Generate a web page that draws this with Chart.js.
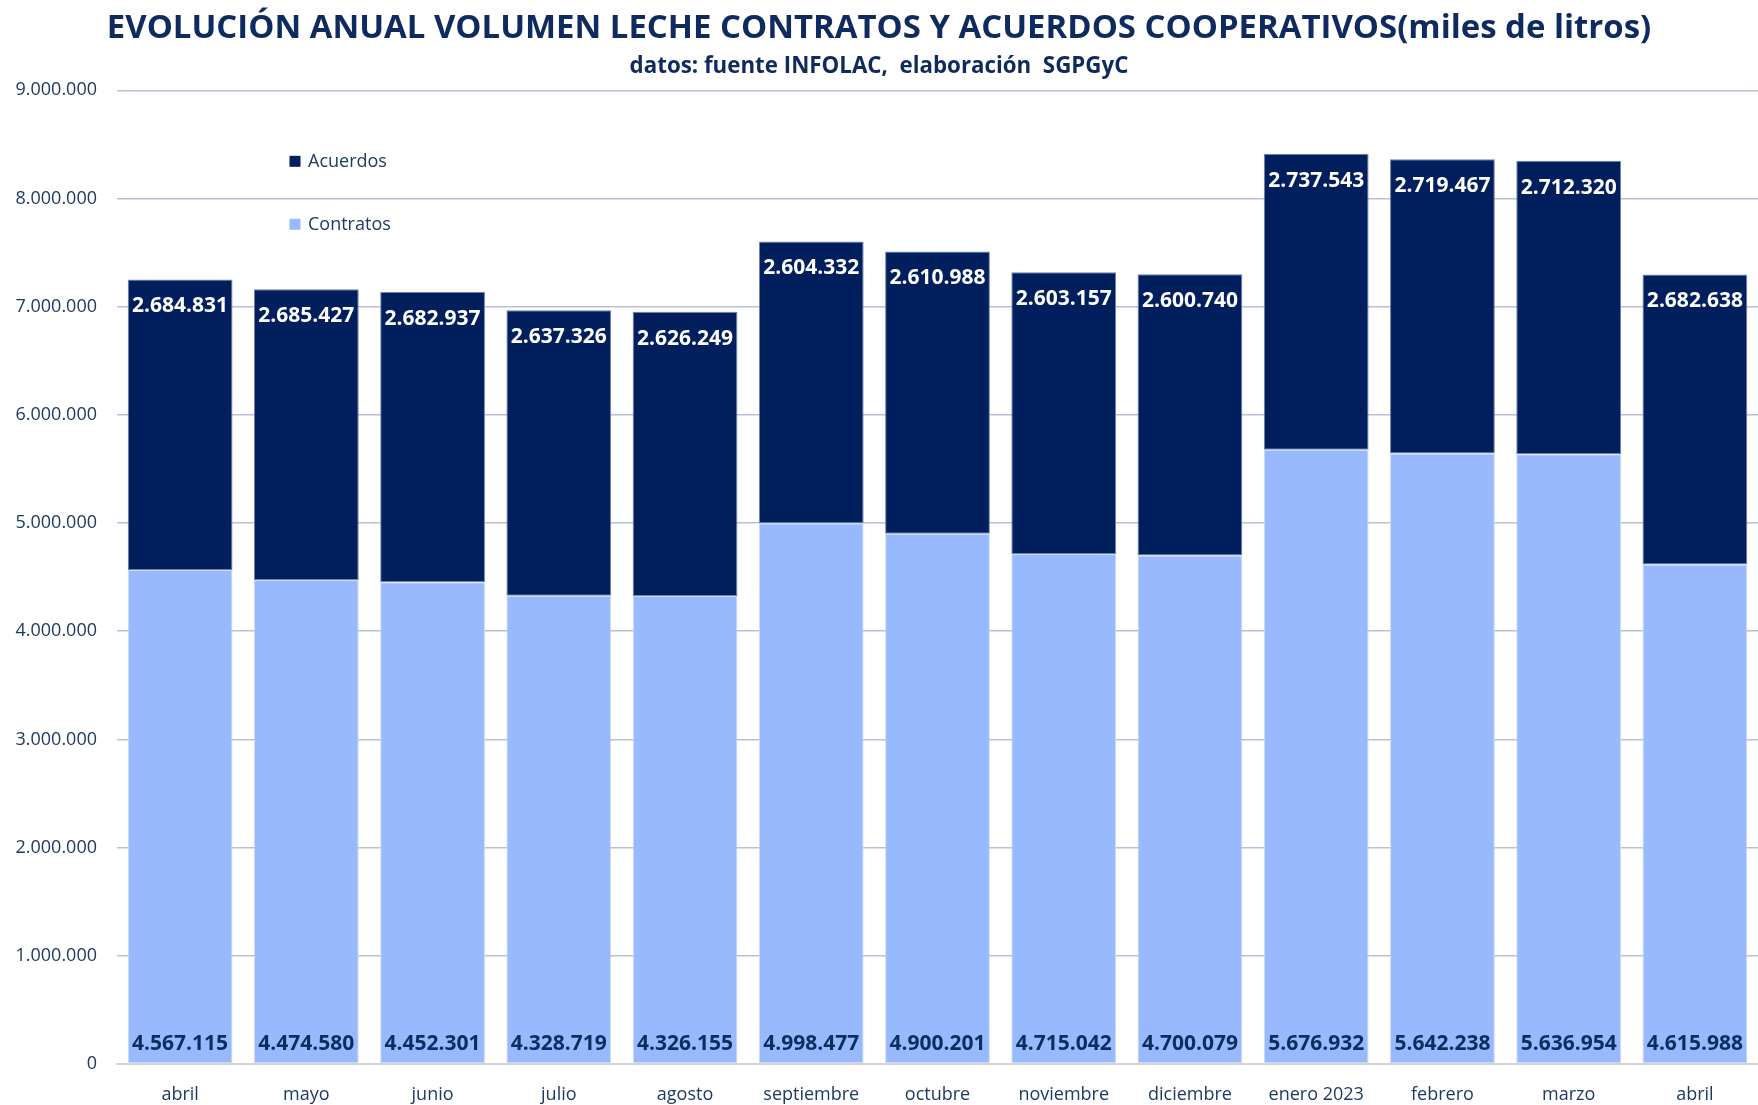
<!DOCTYPE html>
<html>
<head>
<meta charset="utf-8">
<script src="https://cdn.jsdelivr.net/npm/chart.js@4.4.1/dist/chart.umd.min.js"></script>
<style>
  html, body { margin: 0; padding: 0; background: #ffffff; }
  #wrap { width: 1758px; height: 1105px; }
</style>
</head>
<body>
<div id="wrap"><canvas id="c" width="1758" height="1105"></canvas></div>
<script>
// ---- data ----
const categories = ["abril", "mayo", "junio", "julio", "agosto", "septiembre", "octubre", "noviembre", "diciembre", "enero 2023", "febrero", "marzo", "abril"];
const contratos = [4567115, 4474580, 4452301, 4328719, 4326155, 4998477, 4900201, 4715042, 4700079, 5676932, 5642238, 5636954, 4615988];
const acuerdos  = [2684831, 2685427, 2682937, 2637326, 2626249, 2604332, 2610988, 2603157, 2600740, 2737543, 2719467, 2712320, 2682638];
const yTicks = [0, 1000000, 2000000, 3000000, 4000000, 5000000, 6000000, 7000000, 8000000, 9000000];
const titleText = "EVOLUCIÓN ANUAL VOLUMEN LECHE CONTRATOS Y ACUERDOS COOPERATIVOS(miles de litros)";
const subtitleText = "datos: fuente INFOLAC,  elaboración  SGPGyC";

// ---- styling ----
const DARK = "#001F5C";
const LIGHT = "#99B9FF";
const NAVY_TEXT = "#0E2A5E";
const AXIS_TEXT = "#1F3A62";
const FAMILY = "'Open Sans', 'Noto Sans', sans-serif";

function fmt(v) {
  return Math.round(v).toString().replace(/\B(?=(\d{3})+(?!\d))/g, ".");
}
function fitSize(text, weight, family, target) {
  const ctx = document.createElement("canvas").getContext("2d");
  ctx.font = weight + " 100px " + family;
  return 100 * target / ctx.measureText(text).width;
}
const titleSize = fitSize(titleText, "bold", FAMILY, 1545);
const subSize = fitSize(subtitleText, "bold", FAMILY, 499);

const valueLabels = {
  id: "valueLabels",
  afterDatasetsDraw(chart) {
    const ctx = chart.ctx;
    const base = chart.scales.y.getPixelForValue(0);
    ctx.save();
    ctx.font = "bold 21px " + FAMILY;
    ctx.textAlign = "center";
    ctx.textBaseline = "middle";
    chart.data.datasets.forEach((ds, di) => {
      const meta = chart.getDatasetMeta(di);
      meta.data.forEach((bar, i) => {
        const v = ds.data[i];
        if (di === 1) {
          ctx.fillStyle = "#ffffff";
          ctx.fillText(fmt(v), bar.x, bar.y + 27);
        } else {
          ctx.fillStyle = "#0B2E5E";
          ctx.fillText(fmt(v), bar.x, base - 20);
        }
      });
    });
    ctx.restore();
  }
};

const innerLegend = {
  id: "innerLegend",
  afterDraw(chart) {
    const ctx = chart.ctx;
    const a = chart.chartArea;
    const items = [1, 0].map(i => chart.data.datasets[i]);
    ctx.save();
    ctx.font = "18px " + FAMILY;
    ctx.textBaseline = "middle";
    ctx.textAlign = "left";
    items.forEach((ds, k) => {
      const cy = a.top + 71 + k * 63;
      const x = a.left + 178;
      ctx.fillStyle = ds.backgroundColor;
      ctx.fillRect(x - 5.5, cy - 5.5, 11, 11);
      ctx.fillStyle = AXIS_TEXT;
      ctx.fillText(ds.label, x + 13, cy + 1);
    });
    ctx.restore();
  }
};

new Chart(document.getElementById("c"), {
  type: "bar",
  data: {
    labels: categories,
    datasets: [
      { label: "Contratos", data: contratos, backgroundColor: LIGHT, borderColor: "rgba(200,215,245,0.9)", borderWidth: 1, borderSkipped: false },
      { label: "Acuerdos", data: acuerdos, backgroundColor: DARK, borderColor: "rgba(95,115,165,0.9)", borderWidth: 1, borderSkipped: false }
    ]
  },
  options: {
    responsive: false,
    animation: false,
    layout: { padding: { left: 0, right: 0, top: 0, bottom: 0 } },
    datasets: { bar: { barPercentage: 0.83, categoryPercentage: 1.0 } },
    plugins: {
      legend: { display: false },
      tooltip: { enabled: false },
      title: {
        display: true,
        text: titleText,
        color: NAVY_TEXT,
        font: { family: FAMILY, size: titleSize, weight: "bold", lineHeight: 1.2 },
        padding: { top: 9, bottom: 5 }
      },
      subtitle: {
        display: true,
        text: subtitleText,
        color: NAVY_TEXT,
        font: { family: FAMILY, size: subSize, weight: "bold", lineHeight: 1.2 },
        padding: { top: 0, bottom: 10 }
      }
    },
    scales: {
      x: {
        stacked: true,
        afterFit(scale) { scale.height = 41; },
        grid: { display: false, drawTicks: false },
        border: { display: true, color: "#D4D4D4", width: 2 },
        ticks: { color: AXIS_TEXT, font: { family: FAMILY, size: 18 }, padding: 20, maxRotation: 0, autoSkip: false }
      },
      y: {
        stacked: true,
        min: 0,
        max: 9000000,
        afterBuildTicks(scale) { scale.ticks = yTicks.map(v => ({ value: v })); },
        afterFit(scale) { scale.width = 117; },
        grid: { color: "#B7C2D8", lineWidth: 1.5, drawTicks: false },
        border: { display: false },
        ticks: { color: AXIS_TEXT, font: { family: FAMILY, size: 18 }, padding: 20, callback: v => fmt(v) }
      }
    }
  },
  plugins: [valueLabels, innerLegend]
});
</script>
</body>
</html>
